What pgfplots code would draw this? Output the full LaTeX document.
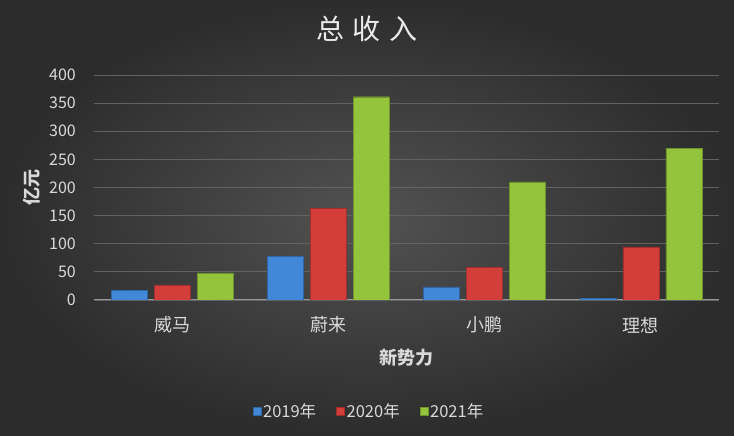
\documentclass[border=0pt]{standalone}
\usepackage{fontspec}
\usepackage{pgfplots}
\pgfplotsset{compat=1.18}
\setmainfont{Noto Sans CJK SC}

\definecolor{bgin}{HTML}{525252}
\definecolor{bgout}{HTML}{2C2C2C}
\definecolor{txt}{HTML}{D9D9D9}
\definecolor{gridc}{HTML}{626262}
\definecolor{c19}{HTML}{4288D8}
\definecolor{c20}{HTML}{D43E3A}
\definecolor{c21}{HTML}{93C43C}

\begin{document}
\begin{tikzpicture}
\shade[inner color=bgin, outer color=bgout] (0pt,0pt) rectangle (734pt,436pt);
\node[text=white!92!black, font=\fontsize{28}{32}\selectfont] at (367pt,407pt) {总\hspace{9pt}收\hspace{9pt}入};
\begin{axis}[
    at={(94pt,136pt)}, anchor=south west,
    scale only axis, width=625pt, height=225pt,
    ybar=7pt, bar width=36pt,
    xmin=-0.5, xmax=3.5, ymin=0, ymax=400,
    xtick=data,
    xticklabels={威马,蔚来,小鹏,理想},
    ytick={0,50,...,400},
    ymajorgrids, grid style={gridc, line width=0.8pt},
    axis x line*=bottom, axis y line*=left,
    y axis line style={draw=none},
    x axis line style={draw=gray!80, line width=1pt, -},
    major tick length=0pt,
    /pgf/number format/assume math mode=true,
    tick label style={text=txt},
    xticklabel style={anchor=center, yshift=-25pt, font=\fontsize{18}{20}\selectfont},
    yticklabel style={anchor=east, inner sep=0pt, xshift=-18pt, font=\fontsize{16}{18}\selectfont},
    xlabel={新势力}, ylabel={亿元},
    label style={text=txt, font=\fontsize{18}{20}\selectfont\bfseries},
    xlabel style={at={(axis description cs:0.5,0)}, anchor=center, yshift=-58pt},
    ylabel style={at={(axis description cs:0,0.5)}, anchor=center, yshift=62pt},
    legend columns=3,
    legend style={at={(0.44,-0.493)}, anchor=center, draw=none, fill=none,
        text=txt, font=\fontsize{16.5}{18}\selectfont,
        /tikz/every even column/.append style={column sep=18pt}},
    legend image code/.code={\fill[#1] (0pt,-4pt) rectangle (8pt,4pt);},
]
\addplot[fill=c19, draw=c19!75!black] coordinates {(0,17) (1,78.2) (2,23.2) (3,2.8)};
\addlegendentry{2019年}
\addplot[fill=c20, draw=c20!75!black] coordinates {(0,27) (1,162.6) (2,58.4) (3,94.6)};
\addlegendentry{2020年}
\addplot[fill=c21, draw=c21!75!black] coordinates {(0,48) (1,361.4) (2,209.9) (3,270.1)};
\addlegendentry{2021年}
\end{axis}
\end{tikzpicture}
\end{document}
